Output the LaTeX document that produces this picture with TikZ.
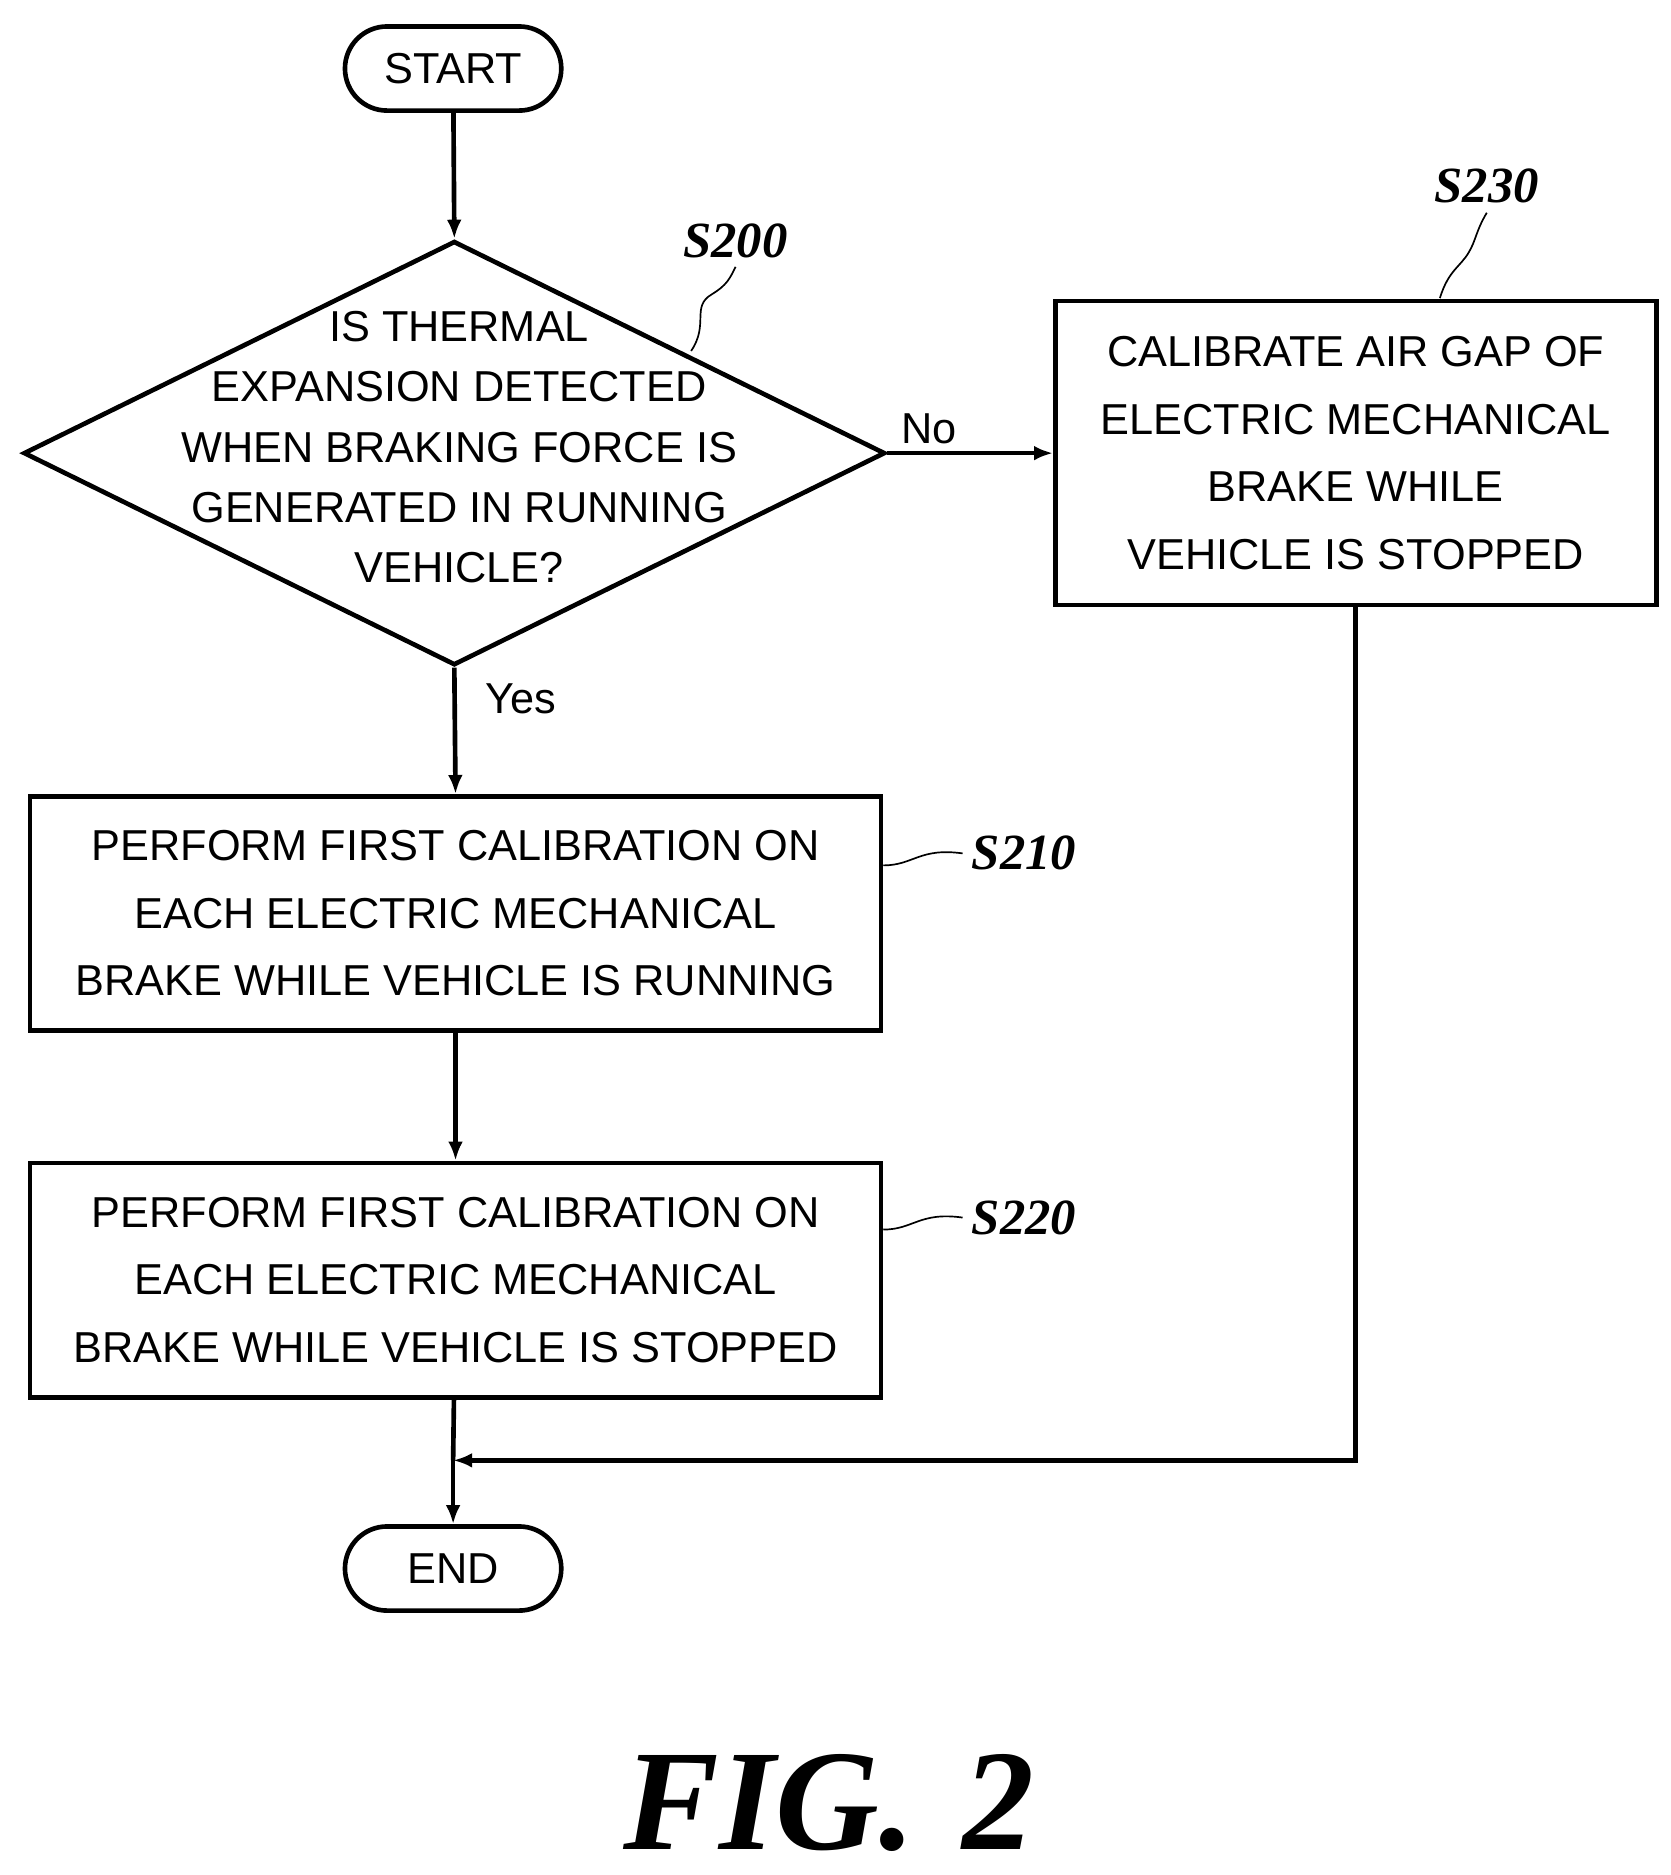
\documentclass[tikz,border=0pt]{standalone}
\usepackage{fontspec}
\setmainfont{Liberation Sans}
\newfontfamily\labfont{Liberation Serif}
\usetikzlibrary{shapes.geometric,arrows.meta}
\begin{document}
\begin{tikzpicture}[x=0.02cm,y=-0.02cm,
    line width=2.2pt,
    every node/.style={font=\fontsize{20.5}{32}\selectfont},
    procbox/.style={draw,rectangle,align=center,inner sep=0pt},
    term/.style={draw,rounded corners=0.7cm,minimum width=3.6cm,minimum height=1.4cm},
    steplabel/.style={font=\labfont\bfseries\itshape\fontsize{24}{24}\selectfont},
    flow/.style={-{Latex[length=9pt,width=7pt]}},
    squig/.style={line width=0.8pt}]
    \useasboundingbox (0,0) rectangle (1390,1560);

    % terminals
    \node[term] (start) at (377,57) {START};
    \node[term] (end) at (377,1305) {END};

    % decision
    \node[draw,diamond,minimum width=14.34cm,minimum height=7.06cm,inner sep=0pt] (dec) at (378,377) {};
    \node[align=center,font=\fontsize{20.5}{28.5}\selectfont] (dectext) at (382,372) {IS THERMAL\\EXPANSION DETECTED\\WHEN BRAKING FORCE IS\\GENERATED IN RUNNING\\VEHICLE?};

    % process boxes
    \node[procbox,minimum width=10cm,minimum height=5.06cm] (s230) at (1128,377)
        {CALIBRATE AIR GAP OF\\ELECTRIC MECHANICAL\\BRAKE WHILE\\VEHICLE IS STOPPED};
    \node[procbox,minimum width=14.16cm,minimum height=3.9cm] (s210) at (379,760)
        {PERFORM FIRST CALIBRATION ON\\EACH ELECTRIC MECHANICAL\\BRAKE WHILE VEHICLE IS RUNNING};
    \node[procbox,minimum width=14.16cm,minimum height=3.9cm] (s220) at (379,1065)
        {PERFORM FIRST CALIBRATION ON\\EACH ELECTRIC MECHANICAL\\BRAKE WHILE VEHICLE IS STOPPED};

    % step labels
    \node[steplabel] (l200) at (612,200) {S200};
    \node[steplabel] (l230) at (1237,155) {S230};
    \node[steplabel] (l210) at (852,710) {S210};
    \node[steplabel] (l220) at (852,1013) {S220};
    \draw[squig] (575,292) .. controls (590,270) and (575,255) .. (592,245) .. controls (605,237) and (607,232) .. (l200.south);
    \draw[squig] (1198,248) .. controls (1205,225) and (1215,222) .. (1222,210) .. controls (1228,200) and (1228,192) .. (l230.south);
    \draw[squig] (s210.east |- 0,720) .. controls (760,720) and (765,705) .. (l210.west);
    \draw[squig] (s220.east |- 0,1023) .. controls (760,1023) and (765,1008) .. (l220.west);

    % connectors
    \draw[flow] (start) -- (dec.north);
    \draw[flow] (dec.east) -- node[above,pos=0.25] {No} (s230.west);
    \draw[flow] (dec.south) -- node[right,pos=0.25,xshift=10pt] {Yes} (s210.north);
    \draw[flow] (s210) -- (s220);
    \coordinate (join) at (377,1215);
    \draw (s220) -- (join);
    \draw[flow] (join) -- (end);
    \draw[flow] (s230.south) |- (join);

    % caption
    \node[font=\labfont\bfseries\itshape\fontsize{68}{68}\selectfont] (fig) at (690,1500) {FIG.\,\,2};
\end{tikzpicture}
\end{document}
